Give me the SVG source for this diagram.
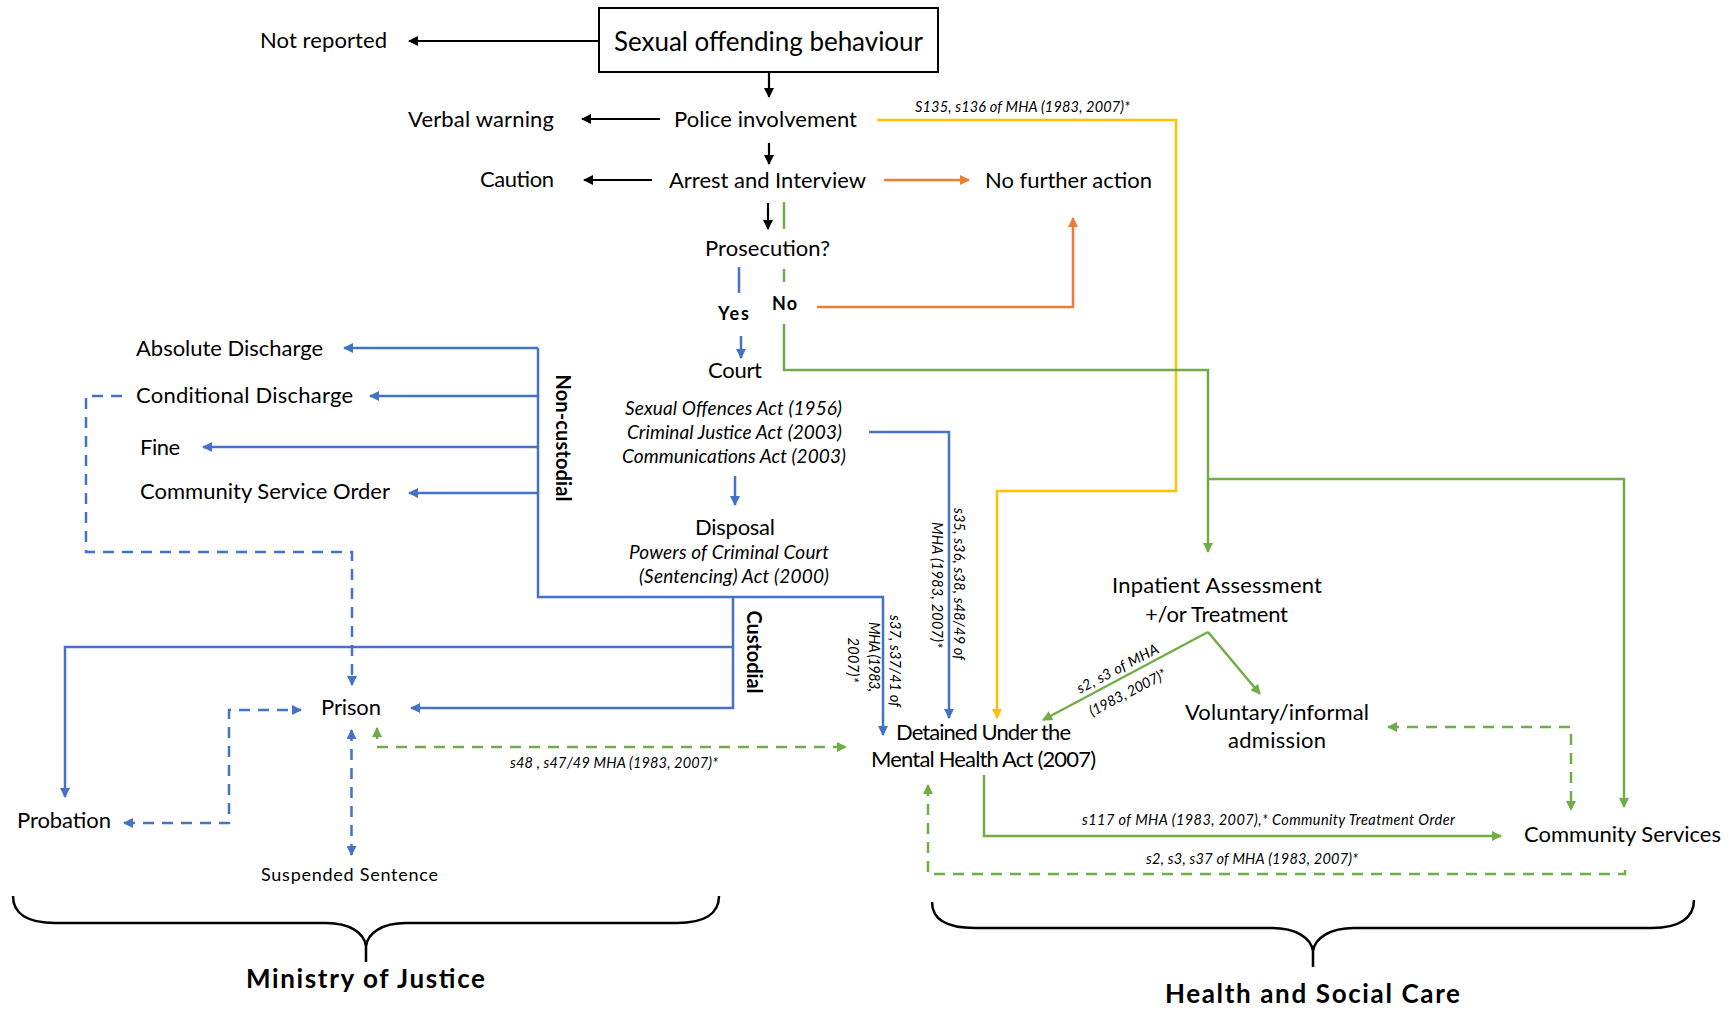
<svg xmlns="http://www.w3.org/2000/svg" width="1735" height="1009" viewBox="0 0 1735 1009">
<style>
text{font-family:Lato,"Liberation Sans",sans-serif;fill:#000;}
.m{font-size:22px;}
.it{font-style:italic;font-size:14.5px;}
.act{font-style:italic;font-size:19px;}
.b{font-weight:bold;}
.ln{fill:none;stroke-width:2.5;}
.k{stroke:#000;stroke-width:2.2;}
.bl{stroke:#4472C4;}
.gr{stroke:#70AD47;}
.or{stroke:#ED7D31;}
.ye{stroke:#FFC000;}
.d{stroke-dasharray:11 8;}
</style>
<defs>
<marker id="ak" viewBox="0 0 10 10" refX="9" refY="5" markerWidth="11" markerHeight="10" markerUnits="userSpaceOnUse" orient="auto-start-reverse"><path d="M0,0 L10,5 L0,10 z" fill="#000"/></marker>
<marker id="ab" viewBox="0 0 10 10" refX="9" refY="5" markerWidth="11" markerHeight="10" markerUnits="userSpaceOnUse" orient="auto-start-reverse"><path d="M0,0 L10,5 L0,10 z" fill="#4472C4"/></marker>
<marker id="ag" viewBox="0 0 10 10" refX="9" refY="5" markerWidth="11" markerHeight="10" markerUnits="userSpaceOnUse" orient="auto-start-reverse"><path d="M0,0 L10,5 L0,10 z" fill="#70AD47"/></marker>
<marker id="ao" viewBox="0 0 10 10" refX="9" refY="5" markerWidth="11" markerHeight="10" markerUnits="userSpaceOnUse" orient="auto-start-reverse"><path d="M0,0 L10,5 L0,10 z" fill="#ED7D31"/></marker>
<marker id="ay" viewBox="0 0 10 10" refX="9" refY="5" markerWidth="11" markerHeight="10" markerUnits="userSpaceOnUse" orient="auto-start-reverse"><path d="M0,0 L10,5 L0,10 z" fill="#FFC000"/></marker>
</defs>
<rect width="1735" height="1009" fill="#fff"/>
<g id="connectors">
<path class="ln k" d="M599,41 H409" marker-end="url(#ak)"/>
<path class="ln k" d="M769,72 V97" marker-end="url(#ak)"/>
<path class="ln k" d="M660,119 H582" marker-end="url(#ak)"/>
<path class="ln k" d="M769,143 V164" marker-end="url(#ak)"/>
<path class="ln k" d="M652,180 H584" marker-end="url(#ak)"/>
<path class="ln k" d="M768,203 V229" marker-end="url(#ak)"/>
<path class="ln or" d="M884,180 H969" marker-end="url(#ao)"/>
<path class="ln or" d="M817,307 H1073 V218" marker-end="url(#ao)"/>
<path class="ln ye" d="M877,120 H1176 V491 H997 V718" marker-end="url(#ay)"/>
<path class="ln gr" d="M784,202 V229"/>
<path class="ln gr" d="M784,269 V282"/>
<path class="ln gr" d="M784,324 V370 H1208 V552" marker-end="url(#ag)"/>
<path class="ln gr" d="M1208,479 H1624 V807" marker-end="url(#ag)"/>
<path class="ln gr" d="M984,775 V836 H1501" marker-end="url(#ag)"/>
<path class="ln gr d" d="M1625,870 V874 H928 V785" marker-end="url(#ag)"/>
<path class="ln gr" d="M1208,632 L1043,720" marker-end="url(#ag)"/>
<path class="ln gr" d="M1208,632 L1260,694" marker-end="url(#ag)"/>
<path class="ln gr d" d="M1388,727 H1571 V810" marker-start="url(#ag)" marker-end="url(#ag)"/>
<path class="ln gr d" d="M377,728 V747 H846" marker-start="url(#ag)" marker-end="url(#ag)"/>
<path class="ln bl" d="M739,267 V293"/>
<path class="ln bl" d="M741,336 V358" marker-end="url(#ab)"/>
<path class="ln bl" d="M869,432 H949 V718" marker-end="url(#ab)"/>
<path class="ln bl" d="M735,476 V505" marker-end="url(#ab)"/>
<path class="ln bl" d="M538,348 V597 H883 V735" marker-end="url(#ab)"/>
<path class="ln bl" d="M538,348 H344" marker-end="url(#ab)"/>
<path class="ln bl" d="M538,396 H370" marker-end="url(#ab)"/>
<path class="ln bl" d="M538,447 H203" marker-end="url(#ab)"/>
<path class="ln bl" d="M538,493 H409" marker-end="url(#ab)"/>
<path class="ln bl" d="M733,597 V708 H411" marker-end="url(#ab)"/>
<path class="ln bl" d="M733,647 H65 V797" marker-end="url(#ab)"/>
<path class="ln bl d" d="M122,396 H86 V552 H352 V685" marker-end="url(#ab)"/>
<path class="ln bl d" d="M124,823 H229 V710 H301" marker-start="url(#ab)" marker-end="url(#ab)"/>
<path class="ln bl d" d="M351.5,730 V855" marker-start="url(#ab)" marker-end="url(#ab)"/>
</g>
<g id="edge-labels">
<text class="it" x="915" y="112" textLength="215">S135, s136 of MHA (1983, 2007)*</text>
<text class="it" x="510" y="768" textLength="208">s48 , s47/49 MHA (1983, 2007)*</text>
<text class="it" x="1082" y="825" textLength="373">s117 of MHA (1983, 2007),* Community Treatment Order</text>
<text class="it" x="1146" y="864" textLength="212">s2, s3, s37 of MHA (1983, 2007)*</text>
<text class="it" text-anchor="middle" transform="translate(954,584) rotate(90)" textLength="152">s35, s36, s38, s48/49 of</text>
<text class="it" text-anchor="middle" transform="translate(932,585) rotate(90)" textLength="126">MHA (1983, 2007)*</text>
<text class="it" text-anchor="middle" transform="translate(890,661) rotate(90)" textLength="92">s37, s37/41 of</text>
<text class="it" text-anchor="middle" transform="translate(869,657) rotate(90)" textLength="70">MHA (1983,</text>
<text class="it" text-anchor="middle" transform="translate(848,660) rotate(90)" textLength="45">2007)*</text>
<text class="it" text-anchor="middle" transform="translate(1120,673) rotate(-27.5)" textLength="90">s2, s3 of MHA</text>
<text class="it" text-anchor="middle" transform="translate(1130,697) rotate(-27.5)" textLength="85">(1983, 2007)*</text>
<text class="b" font-size="18" x="718" y="320" textLength="31">Yes</text>
<text class="b" font-size="18" x="772" y="310" textLength="25">No</text>
<text class="b" font-size="20" text-anchor="middle" transform="translate(556,438) rotate(90)" textLength="127">Non-custodial</text>
<text class="b" font-size="20" text-anchor="middle" transform="translate(747,652) rotate(90)" textLength="83">Custodial</text>
</g>
<g id="sexual-offending-behaviour">
<rect x="599" y="8" width="339" height="64" fill="#fff" stroke="#000" stroke-width="2"/>
<text font-size="26" x="614" y="51" textLength="309">Sexual offending behaviour</text>
</g>
<g id="not-reported"><text class="m" x="260" y="48" textLength="127">Not reported</text></g>
<g id="verbal-warning"><text class="m" x="408" y="127" textLength="146">Verbal warning</text></g>
<g id="police-involvement"><text class="m" x="674" y="127" textLength="183">Police involvement</text></g>
<g id="caution"><text class="m" x="480" y="187" textLength="74">Caution</text></g>
<g id="arrest-interview"><text class="m" x="669" y="188" textLength="197">Arrest and Interview</text></g>
<g id="no-further-action"><text class="m" x="985" y="188" textLength="167">No further action</text></g>
<g id="prosecution"><text class="m" x="705" y="256" textLength="125">Prosecution?</text></g>
<g id="court">
<text class="m" x="708" y="378" textLength="54">Court</text>
<text class="act" x="625" y="415" textLength="217">Sexual Offences Act (1956)</text>
<text class="act" x="627" y="439" textLength="215">Criminal Justice Act (2003)</text>
<text class="act" x="622" y="463" textLength="224">Communications Act (2003)</text>
</g>
<g id="disposal">
<text class="m" x="695" y="535" textLength="80">Disposal</text>
<text class="act" font-size="18" x="629" y="559" textLength="200">Powers of Criminal Court</text>
<text class="act" font-size="18" x="639" y="583" textLength="190">(Sentencing) Act (2000)</text>
</g>
<g id="absolute-discharge"><text class="m" x="136" y="356" textLength="187">Absolute Discharge</text></g>
<g id="conditional-discharge"><text class="m" x="136" y="403" textLength="217">Conditional  Discharge</text></g>
<g id="fine"><text class="m" x="140" y="455" textLength="40">Fine</text></g>
<g id="community-service-order"><text class="m" x="140" y="499" textLength="250">Community Service Order</text></g>
<g id="prison"><text class="m" x="321" y="715" textLength="60">Prison</text></g>
<g id="probation"><text class="m" x="17" y="828" textLength="94">Probation</text></g>
<g id="suspended-sentence"><text font-size="18" x="261" y="881" textLength="177">Suspended Sentence</text></g>
<g id="detained">
<text class="m" x="896" y="740" textLength="175">Detained Under the</text>
<text class="m" x="871" y="767" textLength="225">Mental Health Act (2007)</text>
</g>
<g id="inpatient">
<text class="m" x="1112" y="593" textLength="210">Inpatient  Assessment</text>
<text class="m" x="1145" y="622" textLength="143">+/or Treatment</text>
</g>
<g id="voluntary">
<text class="m" x="1185" y="720" textLength="184">Voluntary/informal</text>
<text class="m" x="1228" y="748" textLength="98">admission</text>
</g>
<g id="community-services"><text class="m" x="1524" y="842" textLength="197">Community Services</text></g>
<g id="ministry-of-justice">
<path d="M13,896 C13,914 28,923 55,923 H326 C350,923 364,933 366,946 C368,933 382,923 406,923 H677 C704,923 719,914 719,896 M366,946 V962" fill="none" stroke="#000" stroke-width="2.5"/>
<text class="b" font-size="26" x="246" y="988" textLength="239">Ministry of Justice</text>
</g>
<g id="health-social-care">
<path d="M932,902 C932,920 948,928 975,928 H1272 C1296,928 1311,938 1313,951 C1315,938 1330,928 1354,928 H1652 C1679,928 1694,918 1694,900 M1313,951 V967" fill="none" stroke="#000" stroke-width="2.5"/>
<text class="b" font-size="26" x="1165" y="1003" textLength="295">Health and Social Care</text>
</g>
</svg>
